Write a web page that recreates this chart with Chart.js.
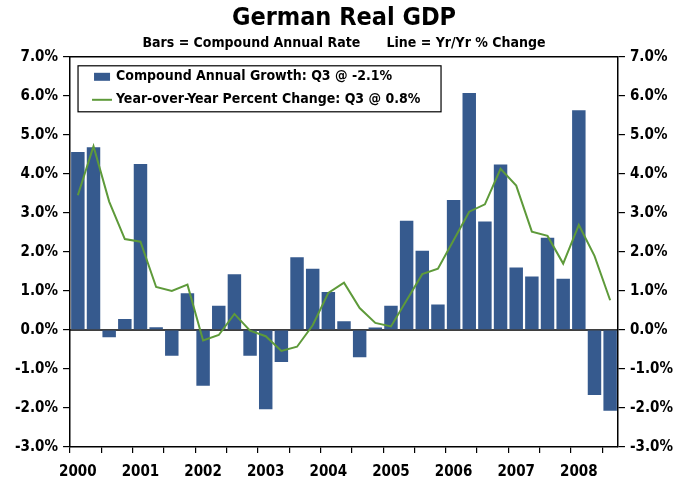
<!DOCTYPE html>
<html>
<head>
<meta charset="utf-8">
<script src="https://cdn.jsdelivr.net/npm/chart.js@4/dist/chart.umd.min.js"></script>
<style>
html,body{margin:0;padding:0;background:#fff;}
#wrap{width:684px;height:483px;}
</style>
</head>
<body>
<div id="wrap"><canvas id="c" width="684" height="483"></canvas></div>
<script>
const years = ['2000','2001','2002','2003','2004','2005','2006','2007','2008'];
const quarters = ['Q1','Q2','Q3','Q4'];
const yTicks = [-3,-2,-1,0,1,2,3,4,5,6,7];
const compoundAnnualGrowth = [4.56,4.68,-0.19,0.28, 4.25,0.07,-0.66,0.94, -1.43,0.62,1.43,-0.66, -2.03,-0.82,1.86,1.57, 0.97,0.22,-0.70,0.06, 0.62,2.80,2.03,0.65, 3.33,6.07,2.78,4.24, 1.60,1.37,2.36,1.31, 5.63,-1.67,-2.07];
const yearOverYear = [3.45,4.71,3.29,2.33, 2.26,1.10,1.00,1.16, -0.27,-0.13,0.41,-0.02, -0.16,-0.54,-0.43,0.12, 0.95,1.21,0.56,0.18, 0.09,0.76,1.43,1.57, 2.30,3.03,3.22,4.13, 3.70,2.52,2.41,1.70, 2.69,1.90,0.76];
const barLabel = 'Compound Annual Growth: Q3 @ -2.1%';
const lineLabel = 'Year-over-Year Percent Change: Q3 @ 0.8%';

const labels = [];
years.forEach(y => quarters.forEach((q,i) => { if (labels.length < compoundAnnualGrowth.length) labels.push(i === 0 ? y : ''); }));

const FONT = "'DejaVu Sans Condensed','Liberation Sans',Arial,sans-serif";
const BLUE = '#365A8E';
const GREEN = '#5E9A3A';

const framePlugin = {
  id: 'frame',
  beforeDatasetsDraw(chart) {
    const {ctx, chartArea: a, scales} = chart;
    const y0 = scales.y.getPixelForValue(0);
    ctx.save();
    ctx.strokeStyle = '#000';
    ctx.lineWidth = 1.5;
    ctx.beginPath();
    ctx.moveTo(a.left, y0); ctx.lineTo(a.right, y0);
    ctx.moveTo(a.left, a.top); ctx.lineTo(a.right, a.top);
    ctx.stroke();
    ctx.restore();
  },
  afterDraw(chart) {
    const {ctx, chartArea: a} = chart;
    const x = a.left + 8, y = a.top + 9, w = 363, h = 46;
    ctx.save();
    ctx.fillStyle = '#fff';
    ctx.fillRect(x, y, w, h);
    ctx.strokeStyle = '#000';
    ctx.lineWidth = 1.2;
    ctx.strokeRect(x, y, w, h);
    ctx.fillStyle = BLUE;
    ctx.fillRect(x + 16, y + 7, 16, 8);
    ctx.strokeStyle = GREEN;
    ctx.lineWidth = 2;
    ctx.beginPath(); ctx.moveTo(x + 14, y + 34); ctx.lineTo(x + 34, y + 34); ctx.stroke();
    ctx.fillStyle = '#000';
    ctx.font = 'bold 14px ' + FONT;
    ctx.textBaseline = 'middle';
    ctx.fillText(chart.data.datasets[0].label, x + 38, y + 11);
    ctx.fillText(chart.data.datasets[1].label, x + 38, y + 34);
    ctx.restore();
  }
};

const yTickCb = v => v.toFixed(1) + '%';
const yAxis = (pos) => ({
  position: pos,
  min: yTicks[0], max: yTicks[yTicks.length-1],
  afterBuildTicks: s => { s.ticks = yTicks.map(v => ({value: v})); },
  border: {color: '#000', width: 1.5},
  grid: {drawOnChartArea: false, drawTicks: true, tickLength: 7, color: '#000', lineWidth: 1.2},
  ticks: {callback: yTickCb, color: '#000', font: {family: FONT, size: 15, weight: 'bold'}, padding: 5}
});

new Chart(document.getElementById('c'), {
  data: {
    labels: labels,
    datasets: [
      {type: 'bar', label: barLabel, data: compoundAnnualGrowth, backgroundColor: BLUE, borderWidth: 0, barPercentage: 0.86, categoryPercentage: 1.0, yAxisID: 'y', order: 2},
      {type: 'line', label: lineLabel, data: yearOverYear, borderColor: GREEN, borderWidth: 2, pointRadius: 0, tension: 0, fill: false, yAxisID: 'y', order: 1}
    ]
  },
  options: {
    responsive: false,
    animation: false,
    layout: {padding: {top: 0, left: 10, right: 6, bottom: -8}},
    plugins: {
      legend: {display: false},
      tooltip: {enabled: false},
      title: {display: true, text: 'German Real GDP', color: '#000', font: {family: FONT, size: 25, weight: 'bold'}, padding: {top: 3, bottom: 2}},
      subtitle: {display: true, text: 'Bars = Compound Annual Rate      Line = Yr/Yr % Change', color: '#000', font: {family: FONT, size: 14, weight: 'bold'}, padding: {top: 0, bottom: 5}}
    },
    scales: {
      x: {
        offset: true,
        border: {color: '#000', width: 1.5},
        grid: {offset: true, drawOnChartArea: false, drawTicks: true, tickLength: 6, lineWidth: 1.2,
               color: c => (c.index % 2 === 0 ? '#000' : 'rgba(0,0,0,0)')},
        ticks: {autoSkip: false, maxRotation: 0, color: '#000', font: {family: FONT, size: 15, weight: 'bold'}, padding: 10}
      },
      y: yAxis('left'),
      y2: yAxis('right')
    }
  },
  plugins: [framePlugin]
});
</script>
</body>
</html>
